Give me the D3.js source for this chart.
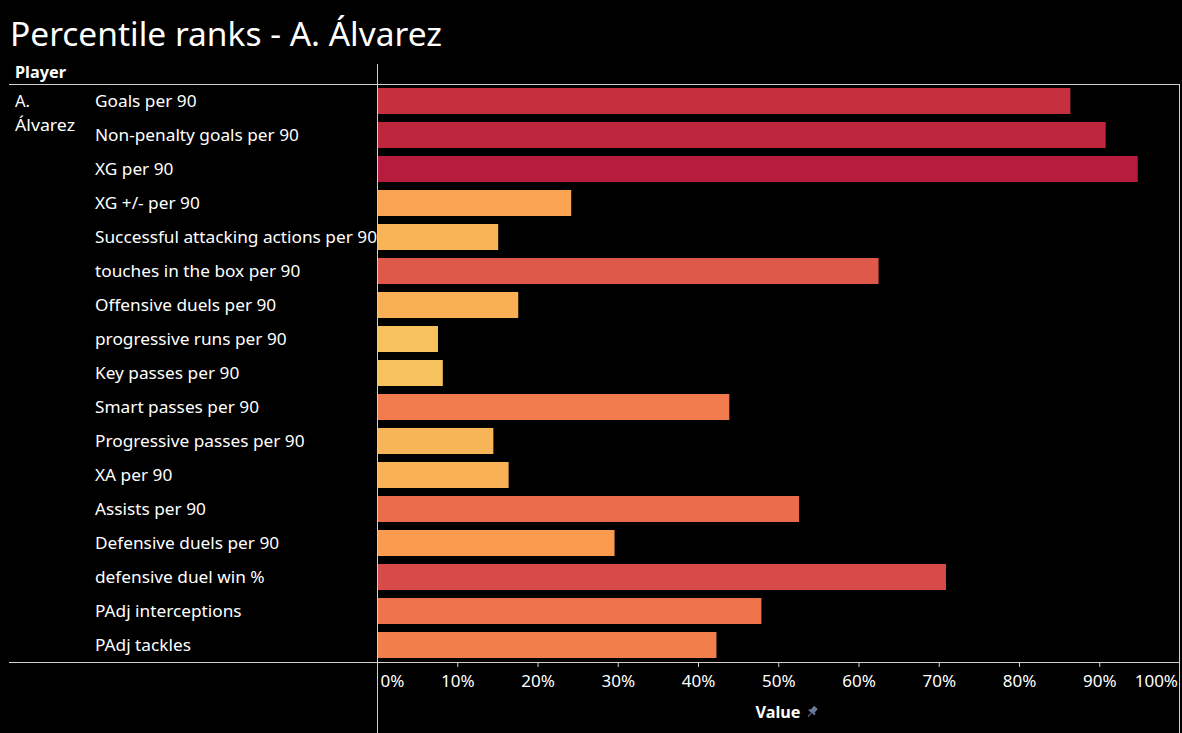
<!DOCTYPE html>
<html>
<head>
<meta charset="utf-8">
<script src="https://cdn.jsdelivr.net/npm/d3@7"></script>
<style>
  html, body { margin: 0; padding: 0; background: #000; }
  svg { display: block; }
  text { font-family: "Noto Sans", "Open Sans", sans-serif; }
</style>
</head>
<body>
<svg id="chart" width="1182" height="733"></svg>
<script>
const titleText = "Percentile ranks - A. Álvarez";
const playerName = ["A.", "Álvarez"];
const categories = [
  "Goals per 90",
  "Non-penalty goals per 90",
  "XG per 90",
  "XG +/- per 90",
  "Successful attacking actions per 90",
  "touches in the box per 90",
  "Offensive duels per 90",
  "progressive runs per 90",
  "Key passes per 90",
  "Smart passes per 90",
  "Progressive passes per 90",
  "XA per 90",
  "Assists per 90",
  "Defensive duels per 90",
  "defensive duel win %",
  "PAdj interceptions",
  "PAdj tackles"
];
const values = [0.864, 0.908, 0.948, 0.242, 0.151, 0.625, 0.176, 0.076, 0.082, 0.439, 0.145, 0.164, 0.526, 0.296, 0.709, 0.479, 0.423];
const tickValues = [0, 0.1, 0.2, 0.3, 0.4, 0.5, 0.6, 0.7, 0.8, 0.9, 1.0];
const colorStops = [0, 0.08, 0.15, 0.25, 0.30, 0.42, 0.50, 0.62, 0.71, 0.86, 0.95];
const colorRange = ["#f7ca62", "#f6c25d", "#f8b456", "#faa150", "#fb9a50", "#f27e4c", "#ee714b", "#e05a4b", "#d64b49", "#c6313f", "#b71c3e"];

const svg = d3.select("#chart");
const W = 1182, H = 733;
svg.append("rect").attr("width", W).attr("height", H).attr("fill", "#000");

const plotLeft = 377, plotRight = 1179.5;
const plotTop = 84, plotBottom = 662;

const x = d3.scaleLinear().domain([0, 1]).range([plotLeft, plotRight]);
const y = d3.scaleBand().domain(categories).range([plotTop, plotBottom]).paddingInner(8 / 34).paddingOuter(4 / 34);
const color = d3.scaleLinear().domain(colorStops).range(colorRange);

// Title
const title = svg.append("text").attr("x", 10).attr("y", 46)
  .attr("fill", "#fff").style("font-size", "32px").text(titleText);
title.attr("textLength", 432).attr("lengthAdjust", "spacingAndGlyphs");

// Header
svg.append("text").attr("x", 15).attr("y", 78).attr("fill", "#fff")
  .style("font-size", "15.5px").attr("font-weight", "bold").text("Player")
  .attr("textLength", 51).attr("lengthAdjust", "spacingAndGlyphs");

// Lines
const lineColor = "#d0d0d0";
svg.append("line").attr("x1", 9).attr("x2", plotRight).attr("y1", plotTop + 0.5).attr("y2", plotTop + 0.5)
  .attr("stroke", lineColor).attr("stroke-width", 1);
svg.append("line").attr("x1", 9).attr("x2", plotRight).attr("y1", plotBottom + 0.5).attr("y2", plotBottom + 0.5)
  .attr("stroke", lineColor).attr("stroke-width", 1);
svg.append("line").attr("x1", plotLeft + 0.5).attr("x2", plotLeft + 0.5).attr("y1", 64).attr("y2", H)
  .attr("stroke", lineColor).attr("stroke-width", 1);
svg.append("line").attr("x1", plotRight).attr("x2", plotRight).attr("y1", plotTop).attr("y2", H)
  .attr("stroke", lineColor).attr("stroke-width", 1);

// Bars
svg.append("g").selectAll("rect").data(categories).join("rect")
  .attr("x", x(0) + 1)
  .attr("y", d => y(d))
  .attr("width", (d, i) => x(values[i]) - x(0) - 1)
  .attr("height", y.bandwidth())
  .attr("fill", (d, i) => color(values[i]));

// Player name
svg.append("text").attr("x", 15).attr("y", 107).attr("fill", "#fff").style("font-size", "16.5px").text(playerName[0]);
svg.append("text").attr("x", 15).attr("y", 131).attr("fill", "#fff").style("font-size", "16.5px").text(playerName[1])
  .attr("textLength", 60).attr("lengthAdjust", "spacingAndGlyphs");

// Category labels
const labels = svg.append("g").selectAll("text").data(categories).join("text")
  .attr("x", 95)
  .attr("y", d => y(d) + y.bandwidth() / 2)
  .attr("dy", "0.36em")
  .attr("fill", "#fff")
  .style("font-size", "16.5px")
  .text(d => d);
let maxW = 0;
labels.each(function () { maxW = Math.max(maxW, this.getComputedTextLength()); });
const k = 282 / maxW;
labels.each(function () {
  const w = this.getComputedTextLength();
  d3.select(this).attr("textLength", w * k).attr("lengthAdjust", "spacingAndGlyphs");
});

// Axis
const axis = d3.axisBottom(x).tickValues(tickValues).tickFormat(d3.format(".0%")).tickSize(4).tickSizeOuter(0);
const ax = svg.append("g").attr("transform", `translate(0,${plotBottom + 1})`).call(axis);
ax.select(".domain").remove();
ax.selectAll(".tick line").attr("stroke", lineColor)
  .attr("display", d => (d === 0 || d === 1) ? "none" : null);
ax.selectAll(".tick text").attr("fill", "#fff")
  .style("font-size", "17px")
  .style("font-family", "\"Noto Sans\", sans-serif")
  .attr("y", 12).attr("dy", "0.71em")
  .attr("text-anchor", d => d === 0 ? "start" : d === 1 ? "end" : "middle")
  .attr("dx", d => d === 0 ? 3 : d === 1 ? -2 : 0);

// Axis title
svg.append("text").attr("x", 778).attr("y", 718).attr("fill", "#fff")
  .style("font-size", "16px").attr("font-weight", "bold").attr("text-anchor", "middle").text("Value")
  .attr("textLength", 45).attr("lengthAdjust", "spacingAndGlyphs");
// pin icon
const pin = svg.append("g").attr("transform", "translate(812,712) rotate(40)");
pin.append("rect").attr("x", -2.5).attr("y", -6).attr("width", 5).attr("height", 6).attr("fill", "#6b7a99");
pin.append("rect").attr("x", -4).attr("y", -1).attr("width", 8).attr("height", 2).attr("fill", "#6b7a99");
pin.append("line").attr("x1", 0).attr("x2", 0).attr("y1", 1).attr("y2", 6).attr("stroke", "#6b7a99").attr("stroke-width", 1);
</script>
</body>
</html>
